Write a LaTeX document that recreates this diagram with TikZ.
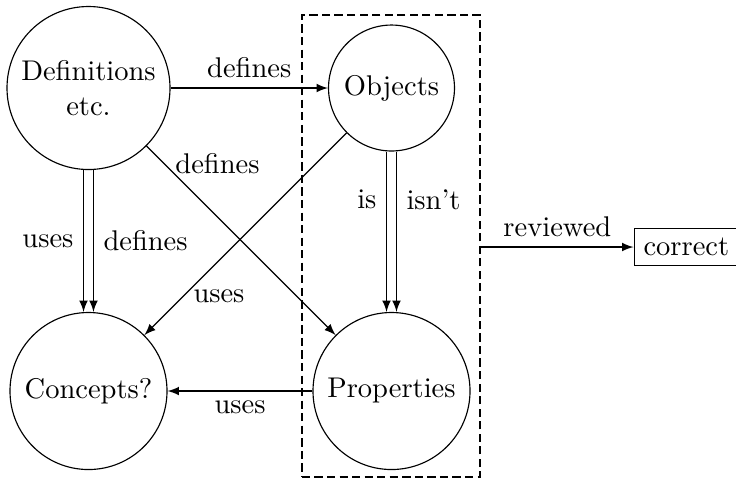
\documentclass[tikz,border=0pt]{standalone}
\usetikzlibrary{arrows.meta,calc}
\begin{document}
\begin{tikzpicture}[x=0.3509pt,y=-0.3509pt, >=latex,
  circ/.style={draw, circle, inner sep=0pt, align=center},
  dashbox/.style={draw, thick, dash pattern=on 2.9pt off 1.5pt, inner sep=0pt},
  boxnode/.style={draw, rectangle}]
\useasboundingbox (0,0) rectangle (736,481);
\node[circ, minimum size=57.2pt] (def) at (88.5,88) {Definitions\\etc.};
\node[circ, minimum size=44.2pt] (obj) at (391.5,88) {Objects};
\node[circ, minimum size=55.1pt] (con) at (88.5,391) {Concepts?};
\node[circ, minimum size=55.1pt] (prop) at (391.5,391) {Properties};
\node[dashbox, minimum width=62.5pt, minimum height=162.1pt] (box) at (391,246) {};
\node[boxnode, anchor=west] (cor) at (633.5,247) {correct};

\draw[->] (def) -- node[above]{defines} (obj);
\draw[->] ([xshift=-1.75pt]def.south) -- node[left]{uses} ([xshift=-1.75pt]con.north);
\draw[->] ([xshift=1.75pt]def.south) -- node[right]{defines} ([xshift=1.75pt]con.north);
\draw[->] ([xshift=-1.75pt]obj.south) -- node[pos=0.3,left]{is} ([xshift=-1.75pt]prop.north);
\draw[->] ([xshift=1.75pt]obj.south) -- node[pos=0.3,right]{isn't} ([xshift=1.75pt]prop.north);
\draw[->] (def) -- node[pos=0.15, anchor=south west, inner sep=0pt]{defines} (prop);
\draw[->] (obj) -- node[pos=0.76, anchor=north west, inner sep=0pt, yshift=-1pt]{uses} (con);
\draw[->] (prop) -- node[below]{uses} (con);
\draw[->] (box.east |- cor.west) -- node[above]{reviewed} (cor.west);
\end{tikzpicture}
\end{document}
